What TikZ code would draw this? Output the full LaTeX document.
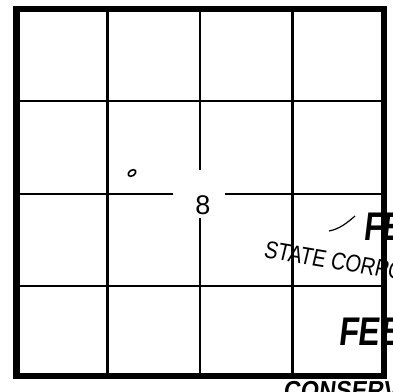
\documentclass[tikz,border=0pt]{standalone}
\usepackage{fontspec}
\setmainfont{Liberation Sans}
\newfontfamily\stampfont{Liberation Sans}
\usepackage{tikz}
\usetikzlibrary{positioning}

\tikzset{
  gridline/.style={line width=2.6pt},
  frameline/.style={line width=6.5pt},
  stamp/.style={inner sep=0pt, anchor=base west, font=\stampfont, xslant=0.12},
}

\begin{document}
\begin{tikzpicture}[x=1pt, y=-1pt]
  \clip (0,0) rectangle (393,391);
  % section grid
  \draw[gridline] (107.5,9) -- (107.5,376);
  \draw[gridline] (292.5,9) -- (292.5,376);
  \draw[gridline] (16.5,101) -- (384,101);
  \draw[gridline] (16.5,286) -- (384,286);
  \draw[gridline] (200,9) -- (200,170);
  \draw[gridline] (200,218) -- (200,376);
  \draw[gridline] (16.5,194) -- (173,194);
  \draw[gridline] (225,194) -- (384,194);
  \draw[frameline] (16.5,9) rectangle (384,376);
  \node[font=\fontsize{27}{27}\selectfont, inner sep=0pt] (sec) at (203,205) {8};
  \draw[line width=1.6pt, rotate around={35:(132,173)}] (132,173) ellipse (4.2pt and 2.8pt);
  % stamp
  \draw[line width=1.2pt] (329,231) .. controls (340,229) and (348,222) .. (355,216);
  \node[stamp, font=\stampfont\bfseries\fontsize{40}{40}\selectfont, xscale=0.75] (filed) at (363,240) {FE};
  \node[stamp, font=\stampfont\fontsize{24}{24}\selectfont, xscale=0.85, rotate=-8] (corp) at (263,257) {STATE CORPORATION};
  \node[stamp, font=\stampfont\bfseries\fontsize{40}{40}\selectfont, xscale=0.8] (month) at (338,345) {FEB};
  \node[stamp, font=\stampfont\bfseries\fontsize{26}{26}\selectfont, xscale=0.9] (div) at (283,399) {CONSERVATION};
\end{tikzpicture}
\end{document}
